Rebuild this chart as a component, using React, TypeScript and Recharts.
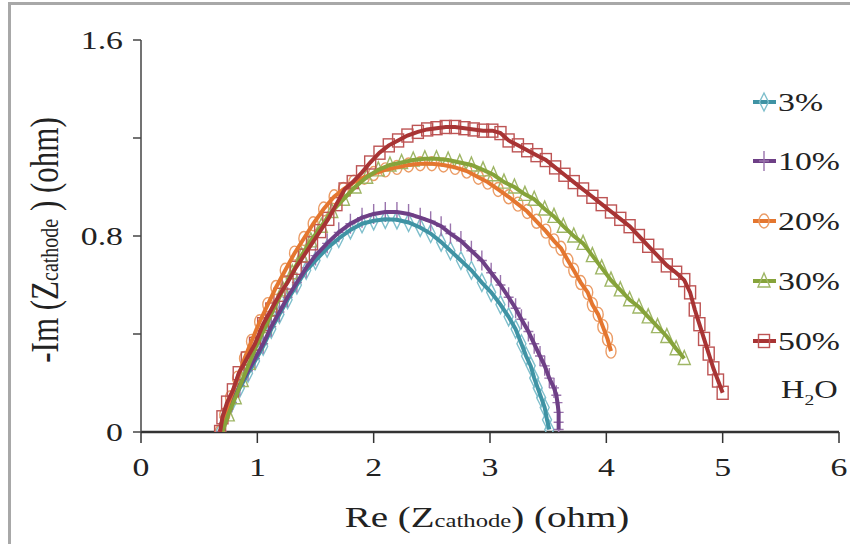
import React from 'react'
import {
  ScatterChart,
  Scatter,
  XAxis,
  YAxis,
  Label,
} from 'recharts'

// -Im(Z) vs Re(Z) for the cathode, one curve per H2O content
const h2o3 = [
  [0.68, 0], [0.72, 0.06], [0.78, 0.12], [0.85, 0.18], [0.92, 0.24], [0.98, 0.29],
  [1.05, 0.35], [1.12, 0.42], [1.19, 0.48], [1.26, 0.54], [1.34, 0.6], [1.42, 0.66],
  [1.5, 0.7], [1.6, 0.75], [1.7, 0.79], [1.8, 0.825], [1.9, 0.85], [2.0, 0.862],
  [2.1, 0.868], [2.2, 0.866], [2.3, 0.855], [2.4, 0.835], [2.49, 0.81], [2.58, 0.775],
  [2.66, 0.74], [2.75, 0.7], [2.84, 0.66], [2.93, 0.61], [3.01, 0.57], [3.09, 0.52],
  [3.16, 0.47], [3.22, 0.42], [3.27, 0.36], [3.31, 0.31], [3.35, 0.27], [3.38, 0.22],
  [3.41, 0.18], [3.44, 0.14], [3.47, 0.1], [3.49, 0.05], [3.51, 0.01],
]

const h2o10 = [
  [0.68, 0], [0.72, 0.06], [0.78, 0.12], [0.85, 0.19], [0.92, 0.25], [0.98, 0.3],
  [1.05, 0.36], [1.12, 0.43], [1.19, 0.49], [1.26, 0.55], [1.34, 0.61], [1.42, 0.67],
  [1.5, 0.72], [1.6, 0.77], [1.7, 0.815], [1.8, 0.85], [1.9, 0.875], [2.0, 0.89],
  [2.1, 0.898], [2.2, 0.898], [2.3, 0.89], [2.4, 0.875], [2.49, 0.86], [2.58, 0.84],
  [2.66, 0.81], [2.75, 0.78], [2.84, 0.74], [2.93, 0.7], [3.01, 0.65], [3.09, 0.6],
  [3.16, 0.55], [3.22, 0.505], [3.27, 0.46], [3.33, 0.41], [3.38, 0.36], [3.43, 0.31],
  [3.47, 0.27], [3.51, 0.22], [3.55, 0.18], [3.57, 0.15], [3.58, 0.12], [3.59, 0.08],
  [3.59, 0.04], [3.59, 0.01],
]

const h2o20 = [
  [0.68, 0], [0.72, 0.07], [0.77, 0.14], [0.83, 0.22], [0.89, 0.3], [0.95, 0.37],
  [1.02, 0.45], [1.09, 0.52], [1.16, 0.59], [1.24, 0.66], [1.32, 0.73], [1.4, 0.79],
  [1.48, 0.85], [1.57, 0.91], [1.66, 0.96], [1.74, 0.99], [1.83, 1.02], [1.92, 1.04],
  [2.0, 1.055], [2.1, 1.07], [2.2, 1.08], [2.3, 1.09], [2.4, 1.095], [2.5, 1.095],
  [2.6, 1.09], [2.7, 1.08], [2.8, 1.065], [2.9, 1.04], [2.98, 1.02], [3.07, 0.99],
  [3.16, 0.96], [3.24, 0.93], [3.32, 0.9], [3.4, 0.86], [3.48, 0.82], [3.55, 0.78],
  [3.61, 0.75], [3.67, 0.7], [3.72, 0.66], [3.78, 0.61], [3.84, 0.57], [3.88, 0.52],
  [3.93, 0.48], [3.97, 0.43], [4.01, 0.38], [4.04, 0.33],
]

const h2o30 = [
  [0.7, 0], [0.75, 0.07], [0.81, 0.14], [0.87, 0.21], [0.93, 0.28], [1.0, 0.36],
  [1.07, 0.43], [1.14, 0.5], [1.22, 0.58], [1.3, 0.65], [1.38, 0.72], [1.46, 0.78],
  [1.55, 0.84], [1.64, 0.9], [1.74, 0.95], [1.84, 1.0], [1.94, 1.04], [2.04, 1.07],
  [2.14, 1.09], [2.24, 1.1], [2.34, 1.11], [2.44, 1.115], [2.54, 1.115], [2.64, 1.11],
  [2.74, 1.1], [2.84, 1.09], [2.94, 1.07], [3.03, 1.05], [3.12, 1.02], [3.21, 1.0],
  [3.3, 0.97], [3.38, 0.95], [3.47, 0.91], [3.55, 0.88], [3.63, 0.84], [3.72, 0.8],
  [3.8, 0.77], [3.88, 0.72], [3.96, 0.67], [4.04, 0.62], [4.12, 0.58], [4.2, 0.54],
  [4.28, 0.51], [4.36, 0.47], [4.44, 0.43], [4.52, 0.39], [4.6, 0.34], [4.67, 0.3],
]

const h2o50 = [
  [0.68, 0], [0.7, 0.06], [0.74, 0.12], [0.79, 0.17], [0.84, 0.24], [0.91, 0.3],
  [0.98, 0.36], [1.05, 0.44], [1.12, 0.5], [1.19, 0.56], [1.26, 0.61], [1.33, 0.67],
  [1.4, 0.72], [1.47, 0.77], [1.54, 0.82], [1.61, 0.87], [1.68, 0.93], [1.75, 0.99],
  [1.82, 1.02], [1.9, 1.06], [1.97, 1.1], [2.05, 1.14], [2.13, 1.17], [2.21, 1.19],
  [2.29, 1.21], [2.38, 1.225], [2.46, 1.235], [2.54, 1.24], [2.62, 1.245], [2.7, 1.245],
  [2.78, 1.24], [2.86, 1.235], [2.94, 1.23], [3.02, 1.23], [3.09, 1.22], [3.16, 1.19],
  [3.24, 1.17], [3.32, 1.15], [3.4, 1.13], [3.48, 1.11], [3.56, 1.08], [3.64, 1.05],
  [3.72, 1.02], [3.8, 0.99], [3.88, 0.96], [3.96, 0.93], [4.04, 0.9], [4.12, 0.87],
  [4.2, 0.84], [4.28, 0.8], [4.36, 0.76], [4.44, 0.72], [4.52, 0.68], [4.6, 0.65],
  [4.67, 0.62], [4.72, 0.57], [4.76, 0.5], [4.8, 0.44], [4.84, 0.38], [4.88, 0.32],
  [4.92, 0.26], [4.96, 0.21], [5.0, 0.16],
]

const xTicks = [0, 1, 2, 3, 4, 5, 6]
const yTicks = [0, 0.4, 0.8, 1.2, 1.6]
const yLabels = ['0', '', '0.8', '', '1.6']

const series = [
  { name: '3%', data: h2o3, line: '#3f93a4', mark: '#7fbfcc', kind: 'diamond' },
  { name: '10%', data: h2o10, line: '#6e3f86', mark: '#9a74ad', kind: 'plus' },
  { name: '20%', data: h2o20, line: '#e4762f', mark: '#eb9c66', kind: 'circle' },
  { name: '30%', data: h2o30, line: '#86a33a', mark: '#9fb666', kind: 'triangle' },
  { name: '50%', data: h2o50, line: '#a83434', mark: '#bd5454', kind: 'square' },
]

const toPoints = (arr: number[][]) => arr.map(([x, y]) => ({ x, y }))

const FONT = '"Liberation Serif", "Times New Roman", serif'
const STRETCH = 1.3

function Marker({ kind, cx, cy, color }: any) {
  const p = { fill: 'none', stroke: color, strokeWidth: 1.4 }
  if (kind === 'diamond') return <path d={`M${cx},${cy - 9}L${cx + 4.5},${cy}L${cx},${cy + 9}L${cx - 4.5},${cy}Z`} {...p} />
  if (kind === 'plus') return <path d={`M${cx},${cy - 10}V${cy + 10}M${cx - 5},${cy}H${cx + 5}`} {...p} />
  if (kind === 'circle') return <ellipse cx={cx} cy={cy} rx={5} ry={7} {...p} />
  if (kind === 'triangle') return <path d={`M${cx},${cy - 8}L${cx + 6},${cy + 6}L${cx - 6},${cy + 6}Z`} {...p} />
  return <rect x={cx - 5.5} y={cy - 6.5} width={11} height={13} {...p} />
}

function SText({ x, y, size, anchor = 'middle', children }: any) {
  return (
    <text
      transform={`translate(${x},${y}) scale(${STRETCH},1)`}
      fontFamily={FONT}
      fontSize={size}
      fill="#222"
      textAnchor={anchor}
    >
      {children}
    </text>
  )
}

const XTick = ({ x, y, payload }: any) => (
  <SText x={x} y={y + 31} size={26}>{String(payload.value)}</SText>
)

const YTick = ({ x, y, payload }: any) => {
  const i = yTicks.indexOf(payload.value)
  return <SText x={x - 8} y={y + 9} size={26} anchor="end">{yLabels[i]}</SText>
}

const XTitle = () => (
  <text transform={`translate(487,527) scale(${STRETCH},1)`} fontFamily={FONT} fontSize={30} fill="#222" textAnchor="middle">
    Re (Z<tspan fontSize={19}>cathode</tspan>) (ohm)
  </text>
)

const YTitle = () => (
  <text transform={`translate(58,240) scale(${STRETCH},1) rotate(-90)`} fontFamily={FONT} fontSize={31} fill="#222" textAnchor="middle">
    -Im (Z<tspan fontSize={20}>cathode</tspan> ) (ohm)
  </text>
)

const legendRows = [102, 161, 221, 281, 341]

const LegendBox = () => (
  <svg width={100} height={340} style={{ position: 'absolute', left: 750, top: 80 }}>
    {series.map((s, i) => {
      const cy = legendRows[i] - 80
      return (
        <g key={s.name}>
          <line x1={3} x2={26} y1={cy} y2={cy} stroke={s.line} strokeWidth={4} />
          <Marker kind={s.kind} cx={14} cy={cy} color={s.mark} />
          <SText x={28} y={cy + 9} size={26} anchor="start">{s.name}</SText>
        </g>
      )
    })}
    <text transform={`translate(31,318) scale(${STRETCH},1)`} fontFamily={FONT} fontSize={25} fill="#222">
      H<tspan fontSize={15} dy={7}>2</tspan><tspan dy={-7}>O</tspan>
    </text>
  </svg>
)

export default function App() {
  return (
    <div style={{ position: 'relative', width: 850, height: 544, background: '#fff', overflow: 'hidden' }}>
      <style>{'body{margin:0}'}</style>
      <div
        style={{
          position: 'absolute',
          left: 8,
          top: 2,
          width: 850,
          height: 560,
          borderLeft: '3px solid #a8a8a8',
          borderTop: '3px solid #a8a8a8',
        }}
      />
      <ScatterChart
        width={850}
        height={544}
        margin={{ top: 40, right: 11, bottom: 72, left: 81 }}
        style={{ position: 'absolute', left: 0, top: 0 }}
      >
        <XAxis
          type="number"
          dataKey="x"
          domain={[0, 6]}
          ticks={xTicks}
          height={40}
          tickSize={11}
          tick={<XTick />}
          axisLine={{ stroke: '#333', strokeWidth: 2.5 }}
          tickLine={{ stroke: '#333', strokeWidth: 1.5 }}
          allowDataOverflow
        >
          <Label content={<XTitle />} />
        </XAxis>
        <YAxis
          type="number"
          dataKey="y"
          domain={[0, 1.6]}
          ticks={yTicks}
          width={60}
          tickSize={8}
          tick={<YTick />}
          axisLine={{ stroke: '#444', strokeWidth: 1.5 }}
          tickLine={{ stroke: '#444', strokeWidth: 1.5 }}
          allowDataOverflow
        >
          <Label content={<YTitle />} />
        </YAxis>
        {series.map((s) => (
          <Scatter
            key={s.name + '-m'}
            name={s.name}
            data={toPoints(s.data)}
            isAnimationActive={false}
            shape={(p: any) => <Marker kind={s.kind} cx={p.cx} cy={p.cy} color={s.mark} />}
          />
        ))}
        {series.map((s) => (
          <Scatter
            key={s.name + '-l'}
            data={toPoints(s.data)}
            isAnimationActive={false}
            line={{ stroke: s.line, strokeWidth: 4 }}
            shape={() => <g />}
            legendType="none"
          />
        ))}
      </ScatterChart>
      <LegendBox />
    </div>
  )
}
